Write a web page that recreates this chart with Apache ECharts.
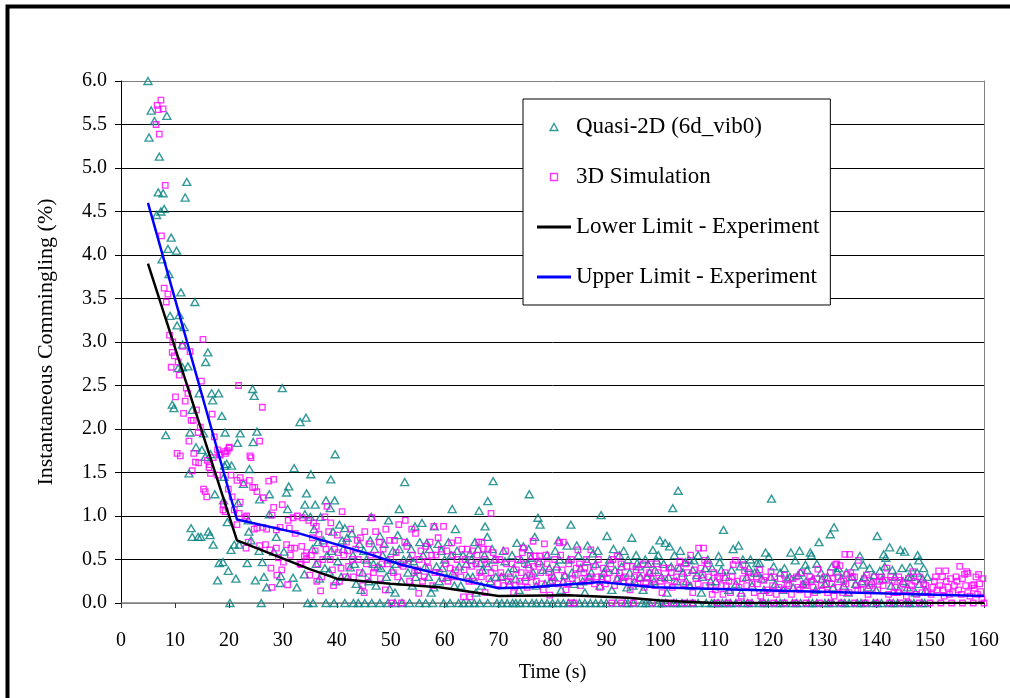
<!DOCTYPE html>
<html>
<head>
<meta charset="utf-8">
<script src="https://cdn.jsdelivr.net/npm/echarts@6/dist/echarts.min.js"></script>
<style>
html,body{margin:0;padding:0;background:#fff;}
#chart{width:1010px;height:698px;}
</style>
</head>
<body>
<div id="chart"></div>
<script>
// ---- data (time s, instantaneous commingling %) ----
const seriesNames = ['Quasi-2D (6d_vib0)', '3D Simulation', 'Lower Limit - Experiment', 'Upper Limit - Experiment'];

const quasi2D = [
[5,6.0],[5.2,5.35],[5.6,5.66],[6.2,5.54],[8.5,5.6],[7.1,5.13],[12.2,4.84],[11.9,4.66],[6.9,4.72],[7.8,4.71],[6.6,4.46],[7.4,4.5],[8.0,4.53],[9.3,4.2],[8.7,4.07],[10.3,4.05],[7.6,3.95],
[8.9,3.78],[11.1,3.57],[13.7,3.46],[9.1,3.3],[10.8,3.31],[10.4,3.19],[11.7,3.17],[11.4,2.97],[16.1,2.88],[15.7,2.77],[10.6,2.7],[11.4,2.71],[12.4,2.72],[14.5,2.41],[16.8,2.41],[18.1,2.41],[17.0,2.33],
[24.4,2.46],[24.7,2.38],[29.9,2.47],[9.5,2.28],[9.8,2.24],[13.2,2.22],[18.7,2.15],[19.3,1.96],[8.3,1.93],[12.8,1.96],[15.3,1.95],[22.1,1.95],[25.2,1.97],[24.5,1.85],[21.6,1.84],[13.9,1.79],[15.0,1.76],
[15.6,1.68],[16.6,1.71],[19.2,1.58],[19.6,1.6],[20.5,1.58],[23.8,1.54],[32.1,1.55],[12.6,1.49],[19.1,1.45],[22.7,1.37],[31.1,1.34],[30.7,1.27],[34.4,1.26],[17.4,1.25],[19.0,1.18],[27.5,1.25],[25.7,1.19],
[21.7,1.15],[30.9,1.08],[34.1,1.02],[27.5,1.02],[23.6,0.95],[19.7,0.93],[13.2,0.76],[14.3,0.76],[14.8,0.76],[16.5,0.78],[17.1,0.67],[21.9,0.67],[23.7,0.82],[28.8,0.76],[25.6,0.6],[13.0,0.86],[16.2,0.82],
[24.1,0.72],[28.3,0.59],[30.2,0.59],[18.9,0.47],[20.4,0.61],[21.0,0.67],[19.9,0.37],[26.2,0.47],[18.2,0.46],[23.4,0.46],[26.5,0.3],[27.0,0.18],[17.9,0.26],[21.3,0.28],[24.9,0.26],[29.6,0.31],[29.5,0.23],
[31.9,0.29],[32.6,0.18],[34.0,0.33],[20.2,0],[26.0,0],[34.6,0],
[34.3,2.13],[33.2,2.08],[39.7,1.71],[35.2,1.48],[38.9,1.42],[52.6,1.39],[69,1.4],[34.1,1.13],[36,1.13],[38,1.18],[39.6,1.18],[38.8,1.09],[51.6,1.08],[61.4,1.08],[66.4,1.06],[68,1.17],[35.1,0.99],
[37,0.99],[46.4,0.99],[40.5,0.9],[41.5,0.86],[49.6,0.95],[54.5,0.88],[55.8,0.92],[58.1,0.88],[62,0.85],[67.5,0.88],[67.9,0.76],[48,0.77],[51.3,0.78],[41.9,0.75],[56.7,0.69],[60.7,0.7],[59.4,0.6],
[64.7,0.57],[54.2,0.48],[66.6,0.46],
[35.6,0],[43.1,0],[45.2,0],[46.5,0],[48,0],[50.8,0],[52.1,0],[55.3,0],[59.8,0],[61,0],[62.6,0],[63.5,0],[64.5,0],[69.7,0],
[38,0],[39.5,0],[41.5,0],[44,0],[49.5,0],[53.5,0],[56.5,0],[57.8,0],[65.5,0],[66.5,0],[68,0],
[35.5,0.62],[36.2,0.45],[36.8,0.28],[37.5,0.72],[38.2,0.55],[38.6,0.36],[39.3,0.82],[40.2,0.48],[40.8,0.3],[41.2,0.62],[42.5,0.41],[43.0,0.55],[43.6,0.22],[44.2,0.68],[44.8,0.35],[45.5,0.5],[46.0,0.25],
[47.0,0.62],[47.6,0.42],[48.5,0.55],[49.2,0.3],[49.8,0.16],[50.4,0.6],[51.0,0.45],[52.0,0.25],[53.0,0.7],[53.5,0.52],[54.0,0.2],[55.0,0.38],[56.0,0.55],[57.0,0.3],[57.5,0.12],[58.5,0.42],[59.0,0.25],
[60.0,0.5],[61.5,0.35],[62.3,0.6],[63.0,0.2],[64.0,0.45],[65.2,0.3],[65.8,0.12],[66.2,0.62],[67.0,0.38],[68.5,0.25],[69.2,0.5],
[35.8,0.85],[36.5,0.7],[37.8,0.4],[39,0.6],[39.8,0.25],[41,0.72],[42,0.3],[42.8,0.8],[43.3,0.45],[44.5,0.15],[45,0.6],[46.2,0.72],[46.8,0.45],[47.3,0.2],[48.2,0.4],[48.8,0.68],[49.5,0.5],
[50.2,0.38],[50.8,0.12],[51.6,0.62],[52.4,0.5],[53.2,0.35],[53.8,0.62],[54.6,0.3],[55.4,0.7],[56.4,0.42],[57.2,0.62],[58,0.18],[58.8,0.68],[59.6,0.4],[60.4,0.3],[61.2,0.55],[61.8,0.2],[62.7,0.42],
[63.4,0.55],[64.3,0.3],[65,0.5],[65.6,0.7],[66.8,0.2],[67.4,0.55],[68,0.42],[68.8,0.62],[69.5,0.3],
[75.7,1.25],[77.3,0.98],[77.7,0.9],[83.4,0.9],[89,1.01],[90.1,0.77],[94.7,0.75],[103.3,1.29],[102.3,1.09],[99.9,0.72],[100.9,0.69],[101.7,0.65],[103.7,0.6],[98.6,0.61],[76.7,0.76],[73.4,0.69],[81.1,0.72],
[82.7,0.66],[84.5,0.66],[86.5,0.66],[87.5,0.57],[91.3,0.62],[93.2,0.6],[80.5,0.6],[74.6,0.65],[71.2,0.48],[75.4,0.45],[95.7,0.46],[97.7,0.45],[99.3,0.49],[104.6,0.47],[106.2,0.49],
[70.6,0],[71.6,0],[74,0],[76.2,0],[78,0],[80,0],[82,0],[84,0],[85,0],[87,0],[88,0],[90,0],[91.8,0],[93.5,0],[95,0],[96.6,0],[98,0],[99.6,0],[101,0],[102.5,0],[104,0],[105,0],[107,0],[108.5,0],
[72.6,0],[73.2,0],[75,0],[77,0],[79,0],[81,0],[83,0],[86,0],[89,0],[94,0],[97.3,0],[100.3,0],[103,0],[106,0],[109.5,0],
[70.5,0.3],[72,0.22],[72.8,0.4],[73.8,0.15],[75,0.3],[76,0.52],[77,0.2],[78.2,0.38],[79,0.55],[79.6,0.25],[80.8,0.42],[81.6,0.15],[82.3,0.32],[83,0.5],[84,0.22],[85.2,0.4],[86,0.12],[86.8,0.3],
[88,0.45],[88.8,0.2],[89.5,0.35],[90.6,0.5],[91,0.15],[92,0.28],[92.8,0.42],[93.8,0.18],[94.3,0.35],[95.2,0.25],[96,0.42],[96.8,0.15],[97.5,0.3],[98.2,0.22],[99,0.38],[100.2,0.3],[101.2,0.12],[102,0.42],
[103,0.25],[104.2,0.35],[105.5,0.2],[106.8,0.32],[107.6,0.12],[108.3,0.4],[109.3,0.25],
[70.9,0.6],[71.8,0.35],[72.5,0.55],[73.2,0.28],[74.2,0.5],[75.6,0.62],[76.4,0.35],[77.6,0.48],[78.6,0.22],[79.4,0.4],[80.2,0.3],[81.3,0.5],[82,0.25],[83.6,0.35],[84.8,0.55],[85.6,0.25],[86.4,0.48],
[87.2,0.35],[88.4,0.6],[89.2,0.28],[90,0.4],[91.6,0.38],[92.4,0.55],[93,0.3],[94,0.5],[94.9,0.2],[95.5,0.55],[96.3,0.3],[97.2,0.5],[98,0.35],[98.8,0.25],[99.6,0.55],[100.6,0.45],[101.5,0.3],
[102.6,0.55],[103.5,0.4],[104.8,0.25],[105.3,0.5],[106,0.38],[107,0.55],[107.8,0.3],[108.8,0.5],[109.6,0.4],
[120.6,1.2],[111.7,0.84],[132.2,0.87],[131.5,0.79],[129.4,0.7],[140.2,0.77],[114.5,0.66],[113.5,0.62],[119.5,0.58],[120.1,0.53],[124.2,0.58],[125.8,0.6],[127.8,0.58],[128,0.55],[142.5,0.64],[141.4,0.56],
[141.8,0.52],[144.5,0.61],[145.3,0.59],[147.7,0.55],[147.9,0.49],[137,0.54],[137.6,0.44],[110.8,0.54],[111,0.47],[115.3,0.5],[116.7,0.5],[117.9,0.46],[118.4,0.46],[125,0.49],[126.9,0.44],[127.2,0.38],
[140.7,0.37],[146.3,0.41],[132.8,0.36],
[110,0],[111.5,0],[113,0],[114,0],[115.5,0],[117,0],[118.5,0],[120,0],[121.5,0],[123,0],[124.5,0],[126,0],[127.5,0],[129,0],[130.5,0],[132,0],[133.5,0],[135,0],[136.5,0],[138,0],[139.5,0],[141,0],
[142.5,0],[144,0],[145.5,0],[147,0],[148.5,0],
[110.7,0],[112.2,0],[116.2,0],[119.2,0],[122.2,0],[125.2,0],[128.2,0],[131.2,0],[134.2,0],[137.2,0],[140.2,0],[143.2,0],[146.2,0],[149,0],
[110.3,0.25],[112,0.3],[112.7,0.15],[113.2,0.38],[114,0.22],[115,0.12],[116,0.3],[117,0.2],[117.5,0.35],[118.8,0.28],[119.2,0.15],[120.5,0.3],[121.3,0.22],[122.2,0.35],[122.8,0.15],[123.5,0.28],
[124.6,0.18],[125.5,0.32],[126.4,0.22],[128.3,0.28],[128.8,0.15],[129.8,0.35],[130.5,0.22],[131,0.3],[132,0.18],[133.5,0.28],[134,0.2],[134.8,0.12],[135.5,0.3],[136.2,0.22],[137.8,0.3],[138.5,0.18],
[139.2,0.25],[140,0.15],[141.2,0.28],[142.8,0.2],[143.5,0.3],[144.2,0.15],[145,0.25],[145.8,0.18],[146.5,0.3],[147.3,0.12],[148,0.22],[148.6,0.28],[149.2,0.15],
[111.3,0.38],[114.8,0.42],[116.4,0.4],[118,0.35],[121,0.42],[123,0.4],[124,0.3],[126,0.35],[127,0.25],[129,0.45],[130,0.28],[131.8,0.42],[133,0.4],[134.5,0.35],[136,0.42],[137.3,0.25],[138.8,0.4],
[139.6,0.32],[141.6,0.42],[143,0.38],[144.8,0.4],[146,0.3],[147.6,0.35],[148.8,0.4],[149.5,0.3]
];

const sim3D = [
[7.4,5.78],[6.7,5.72],[6.9,5.67],[7.8,5.68],[6.5,5.5],[7.1,5.39],[8.2,4.8],[7.5,4.22],[8.0,3.62],[8.7,3.55],[8.4,3.46],[9.0,3.08],[9.6,3.0],[15.2,3.03],[11.4,2.95],[12.8,2.89],[9.5,2.88],[9.9,2.84],
[10.6,2.77],[9.3,2.71],[10.8,2.62],[14.9,2.55],[21.8,2.5],[12.1,2.47],[12.4,2.41],[10.1,2.37],[11.9,2.32],[11.6,2.18],[14.0,2.22],[16.9,2.17],[13.0,2.1],[13.4,2.1],[14.7,2.02],[14.3,1.96],[17.3,1.91],
[12.6,1.86],[10.4,1.72],[11.0,1.69],[17.1,1.67],[18.4,1.7],[20.1,1.79],[19.2,1.74],[19.7,1.75],[24.1,1.67],[25.7,1.86],[26.2,2.25],[16.0,1.64],[16.3,1.56],[13.5,1.72],[17.9,1.76],[18.2,1.71],[19.4,1.72],
[20.0,1.78],[23.9,1.69],[13.8,1.62],[14.4,1.61],[16.4,1.59],[16.6,1.49],[17.9,1.47],[13.2,1.52],[20.4,1.47],[21.5,1.41],[22.1,1.44],[22.7,1.38],[23.8,1.41],[24.4,1.33],[24.8,1.33],[27.4,1.4],[28.3,1.42],
[15.3,1.31],[15.6,1.28],[15.9,1.22],[19.9,1.31],[20.6,1.22],[19.0,1.13],[19.3,1.05],[18.9,1.07],[21.0,1.07],[22.1,1.16],[21.9,1.03],[25.2,1.28],[26.4,1.21],[28.3,1.1],[29.9,1.13],[28.0,1.01],[23,0.98],
[23.3,1.0],[21.5,0.9],[24.7,0.85],[25.2,0.86],[26.3,0.87],[27.0,0.85],[28.8,0.84],[29.5,0.87],[31,0.95],[31.9,0.98],[32.7,1.0],[33.6,0.98],[34.8,0.95],[31.2,0.86],[32.3,0.8],[23.2,0.63],[23.6,0.7],
[25.7,0.66],[26.8,0.67],[28.8,0.63],[30.7,0.67],[31.5,0.63],[32.2,0.63],[33.5,0.65],[34.4,0.58],[27.6,0.61],[31.4,0.55],[34,0.54],[29.2,0.52],[30.1,0.47],[33.2,0.45],[34.4,0.5],[27.8,0.4],[29.8,0.38],
[28.9,0.32],[35,0.32],[30.9,0.21],[28,0.18],[33.4,0.44],
[38.2,1.11],[41,1.05],[46.5,0.98],[52.7,0.95],[68.6,1.03],[37.8,0.99],[35.7,0.92],[36.2,0.88],[59.8,0.88],[58,0.88],[36.7,0.79],[61.3,0.69],[66.9,0.7],[69,0.58],[37,0.14],[45.1,0.12],[49,0.15],
[55.2,0.11],[50.2,0],[52,0],[63.5,0.07],[64.7,0.07],[67.5,0.12],
[35.5,0.75],[36,0.6],[36.5,0.45],[37.2,0.3],[37.6,0.68],[38.5,0.82],[38.8,0.5],[39.2,0.38],[39.6,0.62],[40.1,0.78],[40.5,0.25],[41.3,0.55],[41.8,0.7],[42.2,0.42],[42.6,0.85],[43.1,0.3],[43.5,0.62],
[44,0.5],[44.4,0.75],[44.8,0.2],[45.5,0.45],[46,0.68],[46.8,0.35],[47.2,0.82],[47.6,0.55],[48.1,0.28],[48.6,0.62],[49.4,0.45],[49.8,0.72],[50.5,0.35],[51,0.58],[51.5,0.9],[52.3,0.42],[53,0.65],
[53.5,0.25],[54,0.55],[54.6,0.8],[55,0.38],[55.6,0.6],[56.2,0.3],[56.8,0.48],[57.3,0.7],[57.8,0.2],[58.4,0.55],[59,0.35],[59.4,0.62],[60.2,0.45],[60.6,0.25],[61.5,0.55],[62,0.38],[62.5,0.72],[63,0.3],
[63.8,0.5],[64.2,0.62],[65,0.42],[65.5,0.25],[66,0.55],[66.5,0.35],[67.2,0.62],[67.8,0.45],[68.2,0.28],[69.3,0.4],[69.8,0.22],
[35.3,0.55],[36.3,0.25],[37.4,0.5],[38,0.62],[38.9,0.92],[39.4,0.2],[40.3,0.58],[40.8,0.4],[41.6,0.3],[42,0.6],[42.9,0.5],[43.8,0.72],[44.2,0.35],[45.2,0.82],[45.8,0.3],[46.3,0.55],[47,0.4],
[47.9,0.7],[48.4,0.45],[49.1,0.85],[50,0.5],[50.7,0.72],[51.3,0.3],[51.9,0.45],[52.6,0.7],[53.3,0.45],[53.9,0.85],[54.4,0.35],[55.3,0.5],[55.9,0.25],[56.5,0.65],[57,0.4],[57.6,0.55],[58.2,0.35],
[58.8,0.75],[59.6,0.28],[60.4,0.6],[61,0.4],[61.8,0.3],[62.3,0.5],[63.2,0.62],[63.6,0.38],[64.5,0.25],[65.2,0.6],[65.8,0.45],[66.3,0.7],[66.8,0.3],[67.4,0.5],[68,0.62],[68.6,0.35],[69.5,0.5],
[76.4,0.71],[78.5,0.68],[74.6,0.63],[74.4,0.58],[81.3,0.69],[82,0.7],[75.9,0.54],[76.8,0.54],[77.6,0.54],[84.7,0.61],[87.1,0.61],[92,0.54],[107.1,0.63],[105.6,0.55],[79.5,0.09],[83.3,0],[84,0],
[91,0],[92.8,0],[95,0],[98.5,0],[101,0],[102.5,0],
[70.4,0.35],[71,0.2],[71.5,0.45],[72.2,0.3],[72.8,0.12],[73.3,0.38],[73.9,0.25],[74.8,0.45],[75.3,0.18],[75.8,0.32],[76.5,0.42],[77,0.25],[77.8,0.35],[78.3,0.15],[79,0.45],[79.8,0.3],[80.4,0.5],
[81,0.22],[81.8,0.38],[82.5,0.15],[83,0.45],[83.7,0.28],[84.4,0.4],[85.2,0.2],[85.8,0.35],[86.3,0.5],[86.8,0.25],[87.6,0.42],[88.2,0.3],[88.8,0.18],[89.4,0.4],[90.2,0.28],[90.8,0.45],[91.5,0.2],
[92.4,0.35],[93.2,0.25],[93.8,0.42],[94.4,0.15],[95.2,0.3],[95.8,0.22],[96.4,0.38],[97,0.18],[97.6,0.3],[98.2,0.45],[99,0.2],[99.6,0.35],[100.3,0.12],[100.8,0.28],[101.6,0.4],[102.2,0.18],[103,0.3],
[103.6,0.48],[104.3,0.22],[105,0.35],[106,0.12],[106.6,0.28],[107.5,0.4],[108.4,0.2],[109,0.3],[109.6,0.1],
[70.2,0.5],[70.8,0.3],[71.3,0.6],[71.8,0.25],[72.5,0.45],[73.1,0.2],[73.6,0.5],[74.2,0.35],[75,0.25],[75.6,0.4],[76.2,0.3],[77.3,0.45],[78,0.22],[78.8,0.55],[79.3,0.35],[80,0.25],[80.7,0.38],
[81.5,0.55],[82.2,0.3],[82.8,0.22],[83.5,0.5],[84.2,0.32],[85,0.45],[85.5,0.28],[86,0.4],[87,0.3],[87.8,0.22],[88.5,0.5],[89.1,0.3],[89.8,0.22],[90.5,0.35],[91.2,0.5],[92.1,0.28],[92.7,0.45],
[93.5,0.3],[94.1,0.25],[94.8,0.42],[95.5,0.38],[96.1,0.28],[96.8,0.45],[97.3,0.22],[98,0.35],[98.7,0.28],[99.3,0.45],[100,0.25],[100.6,0.4],[101.3,0.2],[102,0.35],[102.6,0.25],[103.3,0.4],[104,0.3],
[104.7,0.45],[105.3,0.2],[106.3,0.38],[107,0.22],[107.8,0.32],[108.7,0.45],[109.3,0.2],
[134.2,0.56],[135.1,0.56],[132.7,0.45],[133.3,0.43],[136.7,0.49],[134.6,0.33],[142,0.4],[151.6,0.37],[152.9,0.37],[155.5,0.42],[156.8,0.36],[157,0.34],[159,0.33],[108,0.63],[108.2,0.49],[109.9,0.35],
[113.5,0.44],[113.9,0.49],[115.3,0.44],[115.6,0.37],[120.5,0.36],[119.2,0.26],[129.2,0.39],[132.5,0.44],[141.7,0.26],[143,0.26],[144.4,0.26],[146.8,0.36],[152.3,0.3],[153.8,0.28],[155,0.25],[156.4,0.33],
[158.1,0.21],[158.2,0.17],[159.4,0.13],
[104.5,0],[106,0],[110.5,0],[112.5,0],[114.5,0],[116.5,0],[119,0],[121,0],[123,0],[125,0],[127,0],[129.5,0],[131.5,0],[133.5,0],[136,0],[138,0],[140,0],[142.5,0],[144.5,0],[146,0],[148,0],[150,0],
[152,0],[154,0],[156,0],[158,0],[160,0],
[110.2,0.15],[111,0.28],[111.6,0.1],[112.2,0.2],[113,0.12],[114.2,0.25],[115,0.08],[116,0.2],[116.8,0.3],[117.4,0.12],[118,0.22],[118.6,0.08],[119.8,0.15],[120.8,0.2],[121.5,0.1],[122.2,0.28],
[122.8,0.15],[123.5,0.22],[124.3,0.1],[125.2,0.3],[125.8,0.15],[126.5,0.22],[127.3,0.1],[128,0.25],[128.6,0.12],[129.8,0.2],[130.5,0.3],[131,0.12],[131.8,0.22],[132.2,0.08],[133,0.18],[134,0.25],
[135,0.12],[135.6,0.3],[136.3,0.2],[137.2,0.15],[137.8,0.28],[138.5,0.1],[139.2,0.22],[140.3,0.15],[141,0.3],[142.3,0.1],[143.5,0.18],[144,0.12],[145,0.22],[145.6,0.08],[146.3,0.15],[147.2,0.25],
[148.5,0.12],[149.2,0.2],[150.2,0.1],[150.8,0.25],[151.3,0.15],[152.6,0.08],[153.3,0.18],[154.2,0.12],[154.8,0.3],[155.8,0.1],[156.6,0.2],[157.4,0.08],[158.8,0.1],[159.8,0.28],
[110.6,0.3],[111.3,0.2],[112,0.35],[112.7,0.25],[113.3,0.3],[114.6,0.18],[115.3,0.28],[116.3,0.35],[117,0.22],[117.8,0.3],[118.4,0.38],[119.5,0.3],[120.2,0.12],[121.2,0.3],[122,0.18],[123,0.32],
[123.8,0.2],[124.6,0.28],[125.5,0.18],[126.2,0.35],[127,0.2],[127.7,0.3],[128.3,0.18],[129,0.28],[130,0.15],[130.8,0.22],[131.5,0.35],[132,0.28],[132.9,0.3],[133.8,0.12],[134.4,0.22],[135.3,0.35],
[136,0.3],[136.6,0.15],[137.5,0.22],[138.2,0.32],[138.8,0.2],[139.6,0.3],[140.6,0.25],[141.3,0.2],[142.7,0.3],[143.3,0.12],[144.2,0.3],[145.3,0.15],[146,0.28],[146.6,0.2],[147.5,0.1],[148,0.3],
[148.8,0.22],[149.6,0.12],[150.5,0.18],[151,0.3],[151.8,0.2],[152.4,0.15],[153,0.25],[153.6,0.1],[154.5,0.2],[155.3,0.15],[156,0.28],[157,0.12],[157.8,0.2],[158.5,0.3],[159.2,0.22],[159.6,0.05]
];

const lowerLimit = [[5,3.9],[21.5,0.72],[35,0.39],[40,0.28],[50,0.22],[59,0.18],[70,0.08],[83,0.09],[94,0.06],[100,0.03],[107,0.01],[110,0],[160,0]];
const upperLimit = [[5,4.6],[21.5,0.96],[33,0.8],[45.6,0.57],[52,0.44],[61,0.3],[70,0.17],[76,0.18],[89,0.24],[99,0.18],[117,0.15],[160,0.08]];

// ---- chart ----
const FONT = 'Liberation Serif, Times New Roman, serif';
const chart = echarts.init(document.getElementById('chart'), null, {renderer: 'canvas'});
const gridColors = [];
for (let i = 0; i <= 12; i++) gridColors.push(i === 0 || i === 12 ? '#808080' : '#000000');

const triIcon = 'path://M5,0L10,9L0,9Z';
const sqIcon = 'path://M0,0H10V10H0Z';
const lineIcon = 'path://M0,0H34V3H0Z';

chart.setOption({
  animation: false,
  backgroundColor: '#ffffff',
  graphic: [{
    type: 'rect', left: 5, top: 4, z: -10, silent: true,
    shape: {width: 1100, height: 900},
    style: {fill: 'none', stroke: '#000', lineWidth: 4}
  }],
  grid: {left: 121, right: 26, top: 81, bottom: 95, containLabel: false},
  legend: {
    orient: 'vertical', left: 523, top: 99,
    backgroundColor: '#ffffff', borderColor: '#000', borderWidth: 1,
    padding: [16, 11, 16, 14], itemGap: 26, itemWidth: 34, itemHeight: 7,
    symbolKeepAspect: true,
    textStyle: {fontFamily: FONT, fontSize: 23, color: '#000', lineHeight: 24},
    data: [
      {name: seriesNames[0], icon: triIcon, itemStyle: {color: 'rgba(255,255,255,0)', borderColor: '#008080', borderWidth: 1.4}},
      {name: seriesNames[1], icon: sqIcon, itemStyle: {color: 'rgba(255,255,255,0)', borderColor: '#FF00FF', borderWidth: 1.3}},
      {name: seriesNames[2], icon: lineIcon, itemStyle: {color: '#000000', borderWidth: 0}},
      {name: seriesNames[3], icon: lineIcon, itemStyle: {color: '#0000FF', borderWidth: 0}}
    ]
  },
  xAxis: {
    type: 'value', min: 0, max: 160, interval: 10,
    name: 'Time (s)', nameLocation: 'middle', nameGap: 60,
    nameTextStyle: {fontFamily: FONT, fontSize: 20, color: '#000'},
    axisLine: {show: true, lineStyle: {color: '#808080', width: 1.5}},
    axisTick: {show: true, inside: false, length: 5, lineStyle: {color: '#333'}},
    axisLabel: {fontFamily: FONT, fontSize: 20, color: '#000', margin: 28},
    splitLine: {show: false}
  },
  yAxis: [{
    type: 'value', min: 0, max: 6, interval: 0.5,
    name: 'Instantaneous Commingling (%)', nameLocation: 'middle', nameGap: 64, nameRotate: 90,
    nameTextStyle: {fontFamily: FONT, fontSize: 22, color: '#000'},
    axisLine: {show: true, lineStyle: {color: '#000', width: 1}},
    axisTick: {show: true, inside: false, length: 6, lineStyle: {color: '#000'}},
    axisLabel: {fontFamily: FONT, fontSize: 20, color: '#000', margin: 14, formatter: v => v.toFixed(1)},
    splitLine: {show: true, lineStyle: {color: gridColors, width: 1}}
  }, {
    type: 'value', min: 0, max: 6, interval: 0.5, position: 'right',
    axisLine: {show: true, lineStyle: {color: '#808080', width: 1}},
    axisTick: {show: false}, axisLabel: {show: false}, splitLine: {show: false}
  }],
  series: [{
    name: seriesNames[0], type: 'scatter', data: quasi2D,
    symbol: 'triangle', symbolSize: [8, 7],
    itemStyle: {color: 'rgba(255,255,255,0)', borderColor: '#008080', borderWidth: 1.4},
    z: 2
  }, {
    name: seriesNames[1], type: 'scatter', data: sim3D,
    symbol: 'rect', symbolSize: 5.5,
    itemStyle: {color: 'rgba(255,255,255,0)', borderColor: '#FF00FF', borderWidth: 1.3},
    z: 3
  }, {
    name: seriesNames[2], type: 'line', data: lowerLimit,
    symbol: 'none', lineStyle: {color: '#000', width: 2.5}, itemStyle: {color: '#000'}, z: 4
  }, {
    name: seriesNames[3], type: 'line', data: upperLimit,
    symbol: 'none', lineStyle: {color: '#0000FF', width: 2.5}, itemStyle: {color: '#0000FF'}, z: 5
  }]
});
</script>
</body>
</html>
